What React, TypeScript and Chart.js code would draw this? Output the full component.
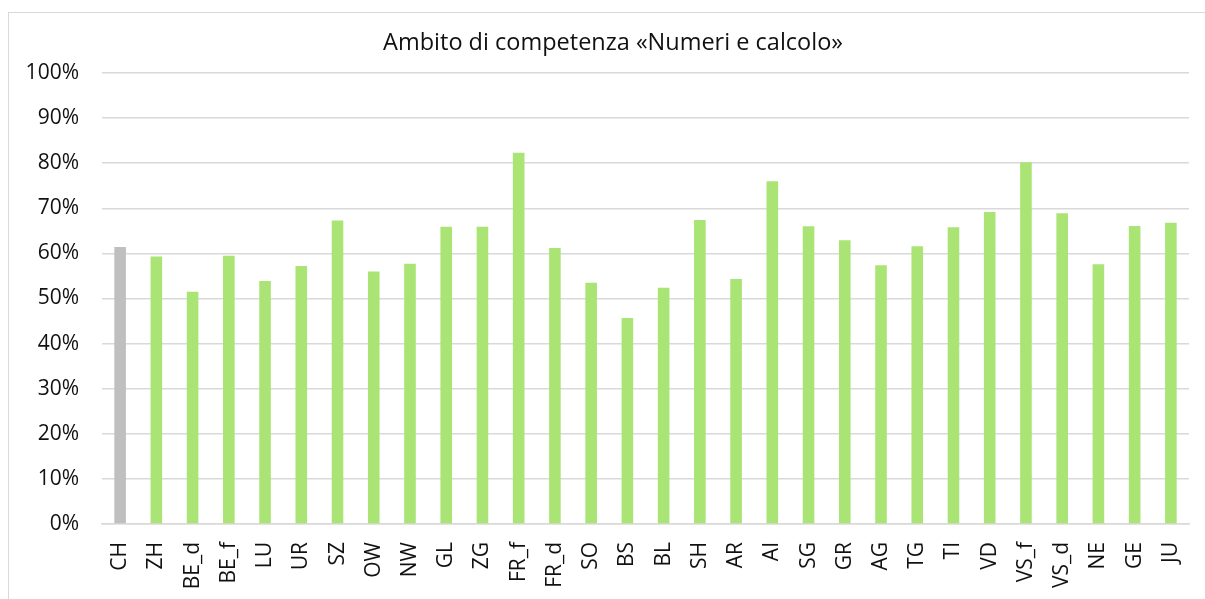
import React, { useEffect, useRef } from "react";
import { Chart, registerables } from "chart.js";

Chart.register(...registerables);

const TITLE = "Ambito di competenza «Numeri e calcolo»";
const categories = [
  "CH", "ZH", "BE_d", "BE_f", "LU", "UR", "SZ", "OW", "NW", "GL",
  "ZG", "FR_f", "FR_d", "SO", "BS", "BL", "SH", "AR", "AI", "SG",
  "GR", "AG", "TG", "TI", "VD", "VS_f", "VS_d", "NE", "GE", "JU",
];
const values = [
  61.4, 59.3, 51.5, 59.5, 53.9, 57.2, 67.3, 56.0, 57.7, 65.9,
  65.9, 82.3, 61.2, 53.5, 45.7, 52.4, 67.4, 54.3, 76.0, 66.0,
  62.9, 57.4, 61.6, 65.8, 69.2, 80.2, 68.9, 57.6, 66.1, 66.8,
];
const yTicks = [0, 10, 20, 30, 40, 50, 60, 70, 80, 90, 100];

const GREEN = "#A9E474";
const GRAY = "#BFBFBF";
const GRID = "#D9D9D9";
const FONT = "'Open Sans', 'DejaVu Sans', sans-serif";

const titlePlugin = {
  id: "fixedTitle",
  afterDraw(chart: any) {
    const ctx = chart.ctx;
    ctx.save();
    ctx.font = `23.5px ${FONT}`;
    ctx.fillStyle = "#111";
    ctx.textAlign = "center";
    ctx.textBaseline = "alphabetic";
    ctx.fillText(TITLE, 613, 50);
    ctx.restore();
  },
};

export default function App() {
  const ref = useRef<HTMLCanvasElement | null>(null);

  useEffect(() => {
    if (!ref.current) return;
    const chart = new Chart(ref.current, {
      type: "bar",
      data: {
        labels: categories,
        datasets: [
          {
            data: values,
            backgroundColor: categories.map((c) => (c === "CH" ? GRAY : GREEN)),
            barPercentage: 0.32,
            categoryPercentage: 1,
          },
        ],
      },
      plugins: [titlePlugin],
      options: {
        animation: false,
        responsive: false,
        maintainAspectRatio: false,
        layout: { padding: { left: 0, right: 16, top: 73, bottom: 0 } },
        plugins: {
          legend: { display: false },
          tooltip: { enabled: false },
          title: { display: false },
        },
        scales: {
          x: {
            grid: { display: false, drawTicks: false },
            border: { display: true, color: GRID, width: 1.5 },
            afterFit: (s: any) => {
              s.height = 75;
              s.paddingLeft = 0;
              s.paddingRight = 0;
            },
            ticks: {
              color: "#111",
              font: { family: FONT, size: 21 },
              minRotation: 90,
              maxRotation: 90,
              autoSkip: false,
              padding: 18,
            },
          },
          y: {
            min: 0,
            max: 100,
            afterBuildTicks: (s: any) => {
              s.ticks = yTicks.map((v) => ({ value: v }));
            },
            afterFit: (s: any) => {
              s.width = 102;
              s.paddingTop = 0;
              s.paddingBottom = 0;
            },
            grid: { color: GRID, lineWidth: 1.5, drawTicks: false },
            border: { display: false },
            ticks: {
              color: "#111",
              font: { family: FONT, size: 21 },
              padding: 23,
              callback: (v: any) => v + "%",
            },
          },
        },
      },
    });
    return () => chart.destroy();
  }, []);

  return (
    <div
      style={{
        position: "absolute",
        left: 0,
        top: 0,
        width: 1205,
        height: 599,
        overflow: "hidden",
        background: "#fff",
      }}
    >
      <div
        style={{
          position: "absolute",
          left: 8,
          top: 12,
          width: 1300,
          height: 700,
          border: "1px solid #D9D9D9",
        }}
      />
      <canvas
        ref={ref}
        width={1205}
        height={599}
        style={{ position: "absolute", left: 0, top: 0, width: 1205, height: 599 }}
      />
    </div>
  );
}
